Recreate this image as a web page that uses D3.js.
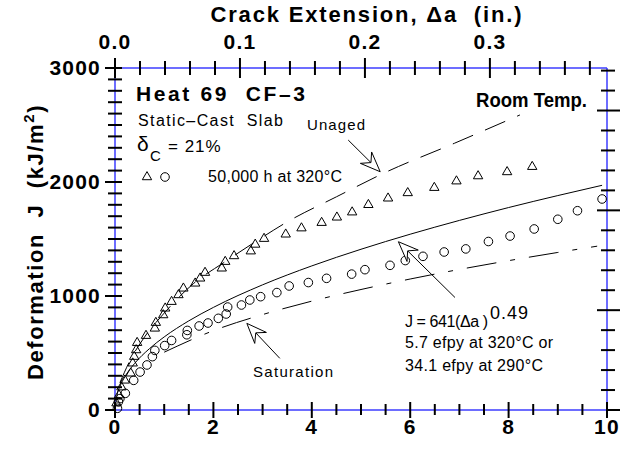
<!DOCTYPE html>
<html lang="en">
<head>
<meta charset="UTF-8">
<title>Deformation J vs Crack Extension - Heat 69 CF-3</title>
<script src="https://d3js.org/d3.v7.min.js"></script>
<style>
    body { margin: 0; background: #fff; }
    svg { display: block; font-family: "Liberation Sans", Arial, Helvetica, sans-serif; }
    .axis-line { stroke: #3c3cff; stroke-width: 1.5px; }
    .tick-mark { stroke: #000; stroke-width: 2px; }
    .tick-label { font-size: 21px; font-weight: bold; letter-spacing: 1.2px; }
    .big { font-size: 21px; font-weight: bold; white-space: pre; }
    .note { font-size: 16px; white-space: pre; }
    .curve { fill: none; stroke: #000; stroke-width: 1px; }
    .marker { fill: none; stroke: #000; stroke-width: 1px; }
    .arrow { fill: #fff; stroke: #000; stroke-width: 1px; }
</style>
</head>
<body>
<div id="chart"></div>
<script>
    // 50,000 h at 320°C - triangles (Δa mm, J kJ/m2)
    var triDa = [0.03, 0.08, 0.13, 0.2, 0.32, 0.36, 0.39, 0.43, 0.45, 0.63, 0.81, 0.83, 0.98, 1.02,
                 1.15, 1.29, 1.39, 1.63, 1.73, 1.83, 2.17, 2.24, 2.42, 2.76, 2.85, 3.03, 3.47, 3.79,
                 4.20, 4.51, 4.82, 5.15, 5.55, 5.95, 6.49, 6.94, 7.38, 7.97, 8.48];
    var triJ  = [60, 130, 200, 260, 322, 410, 468, 526, 590, 652, 716, 766, 833, 892,
                 950, 1009, 1067, 1111, 1155, 1205, 1243, 1301, 1351, 1393, 1452, 1503, 1541, 1595,
                 1643, 1690, 1735, 1800, 1857, 1904, 1950, 2007, 2052, 2088, 2134];

    // 50,000 h at 320°C - circles
    var cirDa = [0.05, 0.07, 0.1, 0.21, 0.38, 0.51, 0.65, 0.76, 0.81, 1.01, 1.15, 1.46, 1.47, 1.71,
                 1.89, 2.10, 2.26, 2.29, 2.57, 2.74, 2.96, 3.29, 3.54, 3.93, 4.30, 4.81, 5.08, 5.59,
                 5.90, 6.26, 6.69, 7.13, 7.59, 8.03, 8.52, 9.00, 9.40, 9.90];
    var cirJ  = [15, 73, 100, 146, 260, 333, 395, 468, 523, 565, 610, 660, 698, 737,
                 763, 804, 842, 903, 921, 965, 994, 1030, 1088, 1118, 1155, 1192, 1231, 1269,
                 1311, 1348, 1386, 1413, 1478, 1526, 1588, 1673, 1748, 1851];

    // solid curve, J = 641(Δa)^0.49
    var fitDa = [0, 0.05, 0.1, 0.2, 0.4, 0.7, 1, 1.5, 2, 3, 4, 5, 6, 7, 8, 9, 9.9];
    var fitJ  = [0, 148, 207, 291, 409, 538, 641, 782, 900, 1098, 1264, 1410, 1542, 1663, 1776, 1881, 1971];

    // unaged (dashed)
    var unagedDa = [0.1, 0.3, 0.6, 1.0, 1.6, 2.2, 2.85, 3.5, 4.5, 5.5, 6.9, 8.23];
    var unagedJ  = [240, 430, 640, 850, 1111, 1290, 1475, 1650, 1870, 2085, 2340, 2588];

    // saturation (dash-dot)
    var satDa = [1.0, 2, 3, 4, 5, 6, 7, 8, 9, 9.8];
    var satJ  = [507, 696, 837, 955, 1057, 1149, 1233, 1310, 1382, 1437];

    var bottomTicks = [0, 2, 4, 6, 8, 10];
    var leftTicks = [0, 1000, 2000, 3000];
    var topTicks = [0, 0.1, 0.2, 0.3];

    function init() {
        var w = 622;
        var h = 450;
        var left = 115, right = 607, top = 68, bottom = 410;

        var xScale = d3.scaleLinear().domain([0, 10]).range([left, right]);
        var yScale = d3.scaleLinear().domain([0, 3000]).range([bottom, top]);
        // inches on top, in-lb/in2 on the right
        var xIn = d3.scaleLinear().domain([0, 10 / 25.4]).range([left, right]);
        var yPsi = d3.scaleLinear().domain([0, 3000 / 0.175127]).range([bottom, top]);

        var svg = d3.select("#chart")
            .append("svg")
            .attr("width", w)
            .attr("height", h);

        svg.append("rect").attr("width", w).attr("height", h).attr("fill", "#fff");

        // frame
        svg.append("line").attr("class", "axis-line").attr("x1", left).attr("x2", right).attr("y1", bottom).attr("y2", bottom);
        svg.append("line").attr("class", "axis-line").attr("x1", left).attr("x2", right).attr("y1", top).attr("y2", top);
        svg.append("line").attr("class", "axis-line").attr("x1", left).attr("x2", left).attr("y1", top).attr("y2", bottom);
        svg.append("line").attr("class", "axis-line").attr("x1", right).attr("x2", right).attr("y1", top).attr("y2", bottom);

        // bottom ticks
        var bMinor = d3.range(0, 10.01, 0.5);
        svg.append("g").selectAll("line").data(bMinor).enter().append("line")
            .attr("class", "tick-mark")
            .attr("x1", function(d) { return xScale(d); })
            .attr("x2", function(d) { return xScale(d); })
            .attr("y1", function(d) { return bottom - (d % 2 === 0 ? 8 : 6); })
            .attr("y2", function(d) { return bottom + (d % 2 === 0 ? 8 : 5); });
        svg.append("g").selectAll("text").data(bottomTicks).enter().append("text")
            .attr("class", "tick-label")
            .attr("x", function(d) { return xScale(d); })
            .attr("y", 434)
            .attr("text-anchor", "middle")
            .text(function(d) { return d; });

        // left ticks
        var lMinor = d3.range(0, 3001, 100);
        svg.append("g").selectAll("line").data(lMinor).enter().append("line")
            .attr("class", "tick-mark")
            .attr("y1", function(d) { return yScale(d); })
            .attr("y2", function(d) { return yScale(d); })
            .attr("x1", function(d) { return left - (d % 1000 === 0 ? 10 : 7); })
            .attr("x2", function(d) { return d === 0 ? left : left + 7; });
        svg.append("g").selectAll("text").data(leftTicks).enter().append("text")
            .attr("class", "tick-label")
            .attr("x", 101)
            .attr("y", function(d) { return yScale(d) + 7; })
            .attr("text-anchor", "end")
            .text(function(d) { return d; });

        // top ticks (inches)
        var tMinor = d3.range(0, 0.381, 0.02);
        svg.append("g").selectAll("line").data(tMinor).enter().append("line")
            .attr("class", "tick-mark")
            .attr("x1", function(d) { return xIn(d); })
            .attr("x2", function(d) { return xIn(d); })
            .attr("y1", function(d) { return top - (Math.round(d * 50) % 5 === 0 ? 10 : 7); })
            .attr("y2", function(d) { return top + (Math.round(d * 50) % 5 === 0 ? 10 : 7); });
        svg.append("g").selectAll("text").data(topTicks).enter().append("text")
            .attr("class", "tick-label")
            .attr("x", function(d) { return xIn(d); })
            .attr("y", 49)
            .attr("text-anchor", "middle")
            .text(function(d) { return d3.format(".1f")(d); });

        // right ticks (in-lb/in2)
        var rMinor = d3.range(0, 17001, 1000);
        svg.append("g").selectAll("line").data(rMinor).enter().append("line")
            .attr("class", "tick-mark")
            .attr("y1", function(d) { return yPsi(d); })
            .attr("y2", function(d) { return yPsi(d); })
            .attr("x1", function(d) { return d === 0 ? right : right - (d % 5000 === 0 ? 10 : 6); })
            .attr("x2", function(d) { return right + (d % 5000 === 0 ? 13 : 8); });

        // axis titles
        svg.append("text").attr("class", "big")
            .attr("x", 366).attr("y", 22).attr("text-anchor", "middle")
            .style("font-size", "22px")
            .attr("textLength", 311).attr("lengthAdjust", "spacing")
            .text("Crack Extension, \u0394a  (in.)");

        var yt = svg.append("text").attr("class", "big")
            .attr("transform", "translate(43,242) rotate(-90)")
            .attr("text-anchor", "middle")
            .style("font-size", "22px")
            .style("letter-spacing", "1.6px");
        yt.append("tspan").text("Deformation  J  (kJ/m");
        yt.append("tspan").attr("dy", -9).style("font-size", "15px").text("2");
        yt.append("tspan").attr("dy", 9).text(")");

        // curves
        var line = d3.line()
            .x(function(d) { return xScale(d[0]); })
            .y(function(d) { return yScale(d[1]); })
            .curve(d3.curveMonotoneX);

        svg.append("path").datum(d3.zip(fitDa, fitJ))
            .attr("class", "curve").attr("d", line);
        svg.append("path").datum(d3.zip(unagedDa, unagedJ))
            .attr("class", "curve").attr("stroke-dasharray", "22,13").attr("d", line);
        svg.append("path").datum(d3.zip(satDa, satJ))
            .attr("class", "curve").attr("stroke-dasharray", "30,14,5,14").attr("d", line);

        // markers
        var tri = d3.symbol().type(d3.symbolTriangle).size(38);
        svg.append("g").selectAll("path").data(d3.zip(triDa, triJ)).enter().append("path")
            .attr("class", "marker")
            .attr("transform", function(d) { return "translate(" + xScale(d[0]) + "," + yScale(d[1]) + ")"; })
            .attr("d", tri);
        svg.append("g").selectAll("circle").data(d3.zip(cirDa, cirJ)).enter().append("circle")
            .attr("class", "marker")
            .attr("cx", function(d) { return xScale(d[0]); })
            .attr("cy", function(d) { return yScale(d[1]); })
            .attr("r", 4.3);

        // labels in the plot
        svg.append("text").attr("class", "big").attr("x", 136).attr("y", 101)
            .attr("textLength", 169).attr("lengthAdjust", "spacing").text("Heat 69  CF\u20133");
        svg.append("text").attr("class", "big").attr("x", 476).attr("y", 107)
            .style("font-size", "20px")
            .attr("textLength", 111).attr("lengthAdjust", "spacingAndGlyphs").text("Room Temp.");
        svg.append("text").attr("class", "note").attr("x", 138).attr("y", 126)
            .attr("textLength", 145).attr("lengthAdjust", "spacing").text("Static\u2013Cast  Slab");

        svg.append("text").attr("class", "note").attr("x", 137).attr("y", 151)
            .style("font-size", "21px").text("\u03b4");
        svg.append("text").attr("class", "note").attr("x", 150).attr("y", 161)
            .style("font-size", "15px").text("C");
        svg.append("text").attr("class", "note").attr("x", 168).attr("y", 152)
            .style("font-size", "17px").style("letter-spacing", "1px").text("= 21%");

        svg.append("path").attr("class", "marker")
            .attr("transform", "translate(147,177)").attr("d", tri);
        svg.append("circle").attr("class", "marker").attr("cx", 165).attr("cy", 177).attr("r", 4.3);
        svg.append("text").attr("class", "note").attr("x", 208).attr("y", 182)
            .attr("textLength", 134).attr("lengthAdjust", "spacing").text("50,000 h at 320\u00b0C");

        svg.append("text").attr("class", "note").attr("x", 307).attr("y", 130).style("font-size", "15px")
            .attr("textLength", 58).attr("lengthAdjust", "spacing").text("Unaged");
        svg.append("text").attr("class", "note").attr("x", 253).attr("y", 377).style("font-size", "15px")
            .attr("textLength", 80).attr("lengthAdjust", "spacing").text("Saturation");

        svg.append("text").attr("class", "note").attr("x", 405).attr("y", 327)
            .attr("textLength", 83).attr("lengthAdjust", "spacing").text("J = 641(\u0394a )");
        svg.append("text").attr("class", "note").attr("x", 490).attr("y", 319)
            .style("font-size", "18px").style("letter-spacing", "1px").text("0.49");
        svg.append("text").attr("class", "note").attr("x", 405).attr("y", 348)
            .attr("textLength", 148).attr("lengthAdjust", "spacing").text("5.7 efpy at 320\u00b0C or");
        svg.append("text").attr("class", "note").attr("x", 405).attr("y", 371)
            .attr("textLength", 138).attr("lengthAdjust", "spacing").text("34.1 efpy at 290\u00b0C");

        // arrows (data coords: from, to)
        arrow(svg, xScale, yScale, [4.74, 2368], [5.39, 2090]);
        arrow(svg, xScale, yScale, [3.35, 453], [2.68, 760]);
        arrow(svg, xScale, yScale, [6.91, 987], [5.76, 1476]);
    }

    function arrow(svg, xScale, yScale, from, to) {
        var x0 = xScale(from[0]), y0 = yScale(from[1]);
        var x1 = xScale(to[0]), y1 = yScale(to[1]);
        var dx = x0 - x1, dy = y0 - y1;
        var L = Math.sqrt(dx * dx + dy * dy);
        var ux = dx / L, uy = dy / L;
        var len = 20, hw = 8, notch = 13;
        var bx = x1 + ux * len, by = y1 + uy * len;
        var nx = x1 + ux * notch, ny = y1 + uy * notch;

        svg.append("line").attr("stroke", "#000").attr("stroke-width", 1)
            .attr("x1", x0).attr("y1", y0).attr("x2", nx).attr("y2", ny);
        svg.append("path").attr("class", "arrow")
            .attr("d", "M" + x1 + "," + y1 +
                "L" + (bx - uy * hw) + "," + (by + ux * hw) +
                "L" + nx + "," + ny +
                "L" + (bx + uy * hw) + "," + (by - ux * hw) + "Z");
    }

    init();
</script>
</body>
</html>
